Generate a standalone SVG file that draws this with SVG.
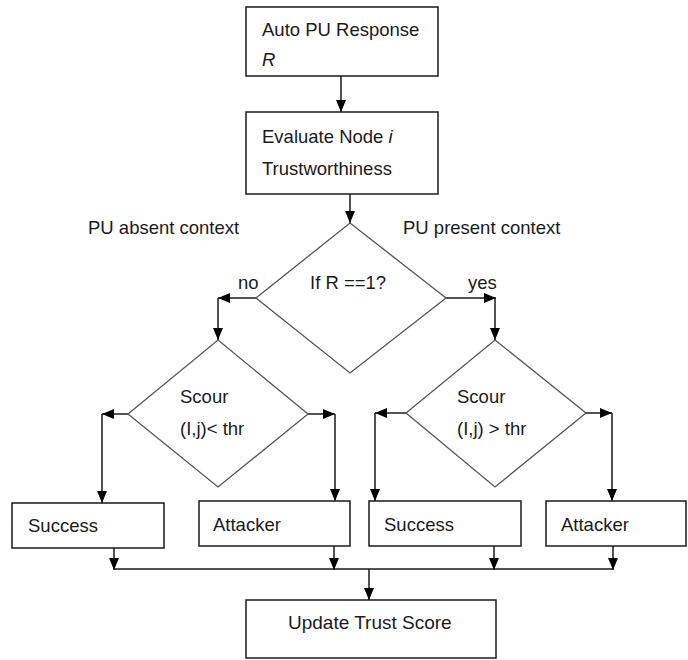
<svg xmlns="http://www.w3.org/2000/svg" width="688" height="660" viewBox="0 0 688 660">
<style>
  .box { fill: #ffffff; stroke: #1a1a1a; stroke-width: 1.5; }
  .dia { fill: #ffffff; stroke: #555555; stroke-width: 1.3; }
  .t { font-family: "Liberation Sans", Arial, sans-serif; font-size: 18.5px; fill: #1a1a1a; }
  .ti { font-style: italic; }
  .c { fill: none; stroke: #1a1a1a; stroke-width: 1.5; }
  .ca { fill: none; stroke: #1a1a1a; stroke-width: 1.5; marker-end: url(#ah); }
</style>
<defs>
  <marker id="ah" markerUnits="userSpaceOnUse" markerWidth="12" markerHeight="11" refX="12" refY="5.5" orient="auto" viewBox="0 0 12 11">
    <path d="M0,0.5 L12,5.5 L0,10.5 z" fill="#000000"/>
  </marker>
</defs>
<rect width="688" height="660" fill="#ffffff"/>

<g id="connectors">
  <path class="ca" d="M341,76 V112"/>
  <path class="ca" d="M350,194 V223"/>
  <path class="ca" d="M256,298 H218"/>
  <path class="ca" d="M218,298 V340"/>
  <path class="ca" d="M446,298 H496"/>
  <path class="ca" d="M495,298 V340"/>
  <path class="ca" d="M128,414 H102"/>
  <path class="ca" d="M102,414 V503"/>
  <path class="ca" d="M308,414 H335"/>
  <path class="ca" d="M335,414 V501"/>
  <path class="ca" d="M406,413 H375"/>
  <path class="ca" d="M375,413 V501"/>
  <path class="ca" d="M586,413 H612"/>
  <path class="ca" d="M612,413 V501"/>
  <path class="ca" d="M114,548 V570"/>
  <path class="ca" d="M334,546 V570"/>
  <path class="ca" d="M494,546 V570"/>
  <path class="ca" d="M613,546 V570"/>
  <path class="c" d="M114,569 H613"/>
  <path class="ca" d="M369,569 V600"/>
</g>

<g id="auto-pu-response">
  <rect class="box" x="246" y="7" width="192" height="69"/>
  <text class="t" x="262" y="36">Auto PU Response</text>
  <text class="t ti" x="262" y="66">R</text>
</g>

<g id="evaluate-node">
  <rect class="box" x="246" y="112" width="192" height="82"/>
  <text class="t" x="262" y="143">Evaluate Node <tspan class="ti">i</tspan></text>
  <text class="t" x="262" y="175">Trustworthiness</text>
</g>

<g id="context-labels">
  <text class="t" x="88" y="234">PU absent context</text>
  <text class="t" x="403" y="234">PU present context</text>
</g>

<g id="decision-r">
  <polygon class="dia" points="350,223 446,298 350,373 256,298"/>
  <text class="t" x="310" y="289">If R ==1?</text>
  <text class="t" x="238" y="289">no</text>
  <text class="t" x="468" y="289">yes</text>
</g>

<g id="decision-absent">
  <polygon class="dia" points="218,340 308,414 218,487 128,414"/>
  <text class="t" x="180" y="403">Scour</text>
  <text class="t" x="180" y="435">(I,j)&lt; thr</text>
</g>

<g id="decision-present">
  <polygon class="dia" points="495,340 586,413 495,487 406,413"/>
  <text class="t" x="457" y="403">Scour</text>
  <text class="t" x="457" y="435">(I,j) &gt; thr</text>
</g>

<g id="success-1">
  <rect class="box" x="12" y="503" width="152" height="45"/>
  <text class="t" x="28" y="532">Success</text>
</g>

<g id="attacker-1">
  <rect class="box" x="199" y="501" width="151" height="45"/>
  <text class="t" x="213" y="531">Attacker</text>
</g>

<g id="success-2">
  <rect class="box" x="369" y="501" width="152" height="45"/>
  <text class="t" x="384" y="531">Success</text>
</g>

<g id="attacker-2">
  <rect class="box" x="546" y="501" width="140" height="45"/>
  <text class="t" x="561" y="531">Attacker</text>
</g>

<g id="update-trust-score">
  <rect class="box" x="246" y="600" width="250" height="58"/>
  <text class="t" x="288" y="629" style="font-size:19px">Update Trust Score</text>
</g>
</svg>
